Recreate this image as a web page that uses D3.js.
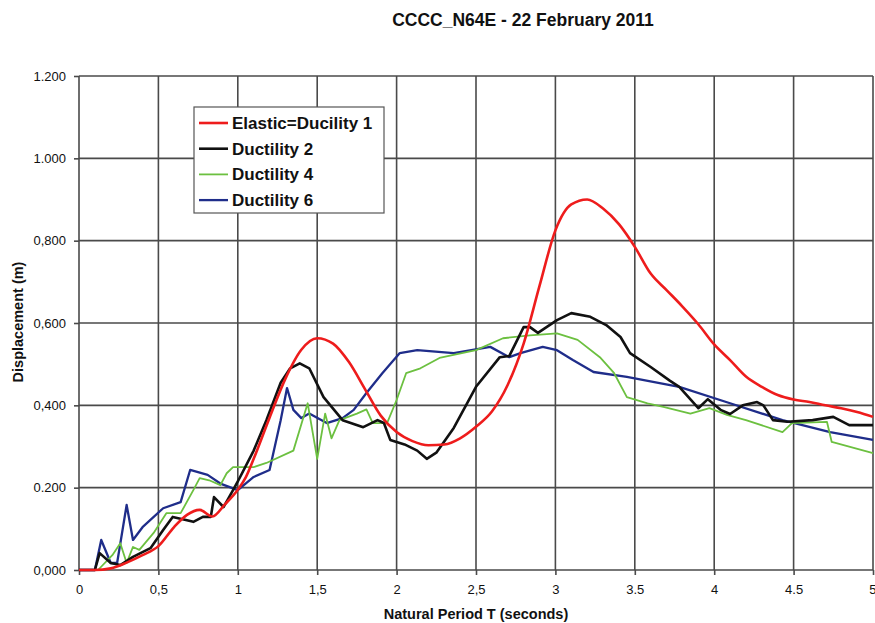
<!DOCTYPE html>
<html>
<head>
<meta charset="utf-8">
<script src="https://cdn.jsdelivr.net/npm/d3@7"></script>
<style>
  html, body { margin: 0; padding: 0; background: #fff; }
  svg { display: block; font-family: "Liberation Sans", Arial, sans-serif; }
</style>
</head>
<body>
<svg id="chart" width="875" height="623"></svg>
<script>
// Displacement response spectra, CCCC_N64E record, 22 February 2011
const elasticT = [0, 0.1, 0.2, 0.3, 0.4, 0.5, 0.6, 0.68, 0.76, 0.84, 0.92, 1.0, 1.05, 1.1, 1.2, 1.3, 1.4, 1.5, 1.6, 1.7, 1.8, 1.9, 2.0, 2.1, 2.2, 2.3, 2.4, 2.5, 2.6, 2.7, 2.8, 2.9, 3.0, 3.1, 3.2, 3.3, 3.4, 3.5, 3.6, 3.7, 3.8, 3.9, 4.0, 4.1, 4.2, 4.3, 4.4, 4.5, 4.6, 4.7, 4.8, 4.9, 5.0];
const elasticD = [0, 0, 0.004, 0.018, 0.036, 0.058, 0.105, 0.134, 0.146, 0.13, 0.16, 0.195, 0.225, 0.27, 0.37, 0.465, 0.535, 0.563, 0.55, 0.505, 0.44, 0.375, 0.335, 0.313, 0.303, 0.305, 0.32, 0.348, 0.385, 0.45, 0.55, 0.69, 0.825, 0.888, 0.9, 0.878, 0.84, 0.785, 0.72, 0.68, 0.64, 0.597, 0.548, 0.51, 0.47, 0.445, 0.425, 0.414, 0.408, 0.4, 0.393, 0.384, 0.372];

const duct2T = [0, 0.1, 0.13, 0.2, 0.26, 0.34, 0.45, 0.53, 0.59, 0.68, 0.72, 0.78, 0.83, 0.85, 0.91, 0.97, 1.0, 1.1, 1.18, 1.27, 1.33, 1.39, 1.45, 1.54, 1.66, 1.79, 1.88, 1.92, 1.96, 2.05, 2.13, 2.19, 2.25, 2.36, 2.5, 2.65, 2.71, 2.8, 2.84, 2.89, 3.01, 3.1, 3.22, 3.32, 3.41, 3.47, 3.6, 3.72, 3.78, 3.9, 3.96, 4.04, 4.1, 4.18, 4.27, 4.31, 4.37, 4.46, 4.62, 4.75, 4.85, 5.0];
const duct2D = [0, 0, 0.041, 0.017, 0.012, 0.032, 0.053, 0.097, 0.129, 0.121, 0.117, 0.129, 0.129, 0.177, 0.153, 0.194, 0.215, 0.29, 0.364, 0.455, 0.49, 0.502, 0.49, 0.42, 0.364, 0.347, 0.364, 0.357, 0.316, 0.305, 0.29, 0.27, 0.285, 0.345, 0.445, 0.517, 0.52, 0.59, 0.59, 0.576, 0.607, 0.624, 0.615, 0.595, 0.566, 0.527, 0.493, 0.46, 0.445, 0.393, 0.415, 0.389, 0.379, 0.4, 0.408, 0.4, 0.364, 0.36, 0.364, 0.372, 0.352, 0.352];

const duct4T = [0, 0.12, 0.21, 0.26, 0.3, 0.34, 0.38, 0.47, 0.55, 0.64, 0.72, 0.76, 0.82, 0.89, 0.93, 0.97, 1.1, 1.18, 1.35, 1.44, 1.5, 1.55, 1.59, 1.64, 1.75, 1.81, 1.85, 1.94, 2.0, 2.06, 2.15, 2.27, 2.5, 2.67, 2.84, 3.01, 3.14, 3.28, 3.37, 3.45, 3.58, 3.68, 3.85, 3.97, 4.08, 4.2, 4.43, 4.49, 4.71, 4.74, 5.0];
const duct4D = [0, 0, 0.036, 0.065, 0.017, 0.056, 0.049, 0.09, 0.138, 0.138, 0.194, 0.223, 0.218, 0.206, 0.235, 0.25, 0.25, 0.26, 0.29, 0.405, 0.27, 0.38, 0.32, 0.364, 0.38, 0.39, 0.357, 0.357, 0.413, 0.478, 0.49, 0.515, 0.534, 0.563, 0.57, 0.575, 0.559, 0.517, 0.478, 0.42, 0.405, 0.396, 0.38, 0.393, 0.377, 0.364, 0.335, 0.357, 0.36, 0.311, 0.284];

const duct6T = [0, 0.1, 0.14, 0.2, 0.24, 0.3, 0.34, 0.4, 0.53, 0.64, 0.7, 0.81, 0.89, 1.0, 1.1, 1.2, 1.27, 1.31, 1.35, 1.4, 1.45, 1.56, 1.66, 1.73, 1.81, 1.91, 2.02, 2.13, 2.36, 2.59, 2.71, 2.78, 2.92, 3.01, 3.11, 3.24, 3.45, 3.78, 4.1, 4.43, 4.73, 5.0];
const duct6D = [0, 0, 0.073, 0.017, 0.017, 0.158, 0.073, 0.104, 0.15, 0.165, 0.243, 0.231, 0.21, 0.194, 0.226, 0.243, 0.364, 0.442, 0.389, 0.369, 0.38, 0.357, 0.369, 0.389, 0.43, 0.478, 0.527, 0.534, 0.527, 0.542, 0.517, 0.527, 0.542, 0.534, 0.51, 0.481, 0.469, 0.445, 0.405, 0.364, 0.335, 0.316];

const xTicks = [0, 0.5, 1, 1.5, 2, 2.5, 3, 3.5, 4, 4.5, 5];
const xTickLabels = ["0", "0,5", "1", "1,5", "2", "2,5", "3", "3.5", "4", "4.5", "5"];
const yTicks = [0, 0.2, 0.4, 0.6, 0.8, 1.0, 1.2];
const yTickLabels = ["0,000", "0.200", "0,400", "0,600", "0,800", "1.000", "1.200"];

const seriesNames = ["Elastic=Ducility 1", "Ductility 2", "Ductility 4", "Ductility 6"];
const seriesColors = ["#ee1c1c", "#111111", "#6cc040", "#1f2d8a"];
const seriesWidths = [2.6, 2.6, 1.8, 2.3];

const svg = d3.select("#chart");
const margin = { left: 79, right: 2, top: 76, bottom: 53 };
const W = 875, H = 623;

const x = d3.scaleLinear().domain([0, 5]).range([margin.left, W - margin.right]);
const y = d3.scaleLinear().domain([0, 1.2]).range([H - margin.bottom, margin.top]);

// grid
const grid = svg.append("g").attr("stroke", "#4a4a4a").attr("stroke-width", 1.6);
grid.selectAll("line.v").data(xTicks).join("line")
  .attr("x1", d => x(d)).attr("x2", d => x(d))
  .attr("y1", y(1.2)).attr("y2", y(0));
grid.selectAll("line.h").data(yTicks).join("line")
  .attr("x1", x(0)).attr("x2", x(5))
  .attr("y1", d => y(d)).attr("y2", d => y(d));

// axes
const xAxis = d3.axisBottom(x).tickValues(xTicks)
  .tickFormat((d, i) => xTickLabels[i]).tickSize(5).tickPadding(10);
const yAxis = d3.axisLeft(y).tickValues(yTicks)
  .tickFormat((d, i) => yTickLabels[i]).tickSize(5).tickPadding(8);

const gx = svg.append("g").attr("transform", `translate(0,${y(0)})`).call(xAxis);
const gy = svg.append("g").attr("transform", `translate(${x(0)},0)`).call(yAxis);
[gx, gy].forEach(g => {
  g.select(".domain").remove();
  g.selectAll(".tick line").attr("stroke", "#4a4a4a").attr("stroke-width", 1.6);
  g.selectAll(".tick text").attr("fill", "#111").attr("font-size", 13)
    .attr("font-family", "'Liberation Sans', Arial, sans-serif");
});
// keep the last period label inside the page edge
gx.selectAll(".tick text").filter(d => d === 5).attr("text-anchor", "end").attr("dx", 3);

// series lines
const series = [
  { t: elasticT, d: elasticD, curve: d3.curveMonotoneX },
  { t: duct2T, d: duct2D, curve: d3.curveLinear },
  { t: duct4T, d: duct4D, curve: d3.curveLinear },
  { t: duct6T, d: duct6D, curve: d3.curveLinear }
];
const drawOrder = [3, 2, 1, 0];
drawOrder.forEach(i => {
  const s = series[i];
  const pts = s.t.map((t, k) => [t, s.d[k]]);
  const line = d3.line().x(p => x(p[0])).y(p => y(p[1])).curve(s.curve);
  svg.append("path").datum(pts)
    .attr("d", line)
    .attr("fill", "none")
    .attr("stroke", seriesColors[i])
    .attr("stroke-width", seriesWidths[i])
    .attr("stroke-linejoin", "round");
});

// legend
const lg = svg.append("g").attr("transform", "translate(194,107)");
lg.append("rect").attr("width", 190).attr("height", 106)
  .attr("fill", "#fff").attr("stroke", "#555").attr("stroke-width", 1.2);
seriesNames.forEach((name, i) => {
  const cy = 16 + i * 25.7;
  lg.append("line").attr("x1", 5).attr("x2", 34).attr("y1", cy).attr("y2", cy)
    .attr("stroke", seriesColors[i]).attr("stroke-width", seriesWidths[i]);
  lg.append("text").attr("x", 38).attr("y", cy + 6)
    .attr("font-size", 17).attr("font-weight", "bold").attr("fill", "#111")
    .text(name);
});

// titles
svg.append("text").attr("x", 523).attr("y", 26).attr("text-anchor", "middle")
  .attr("font-size", 17.5).attr("font-weight", "bold").attr("fill", "#111")
  .text("CCCC_N64E - 22 February 2011");
svg.append("text").attr("x", 476).attr("y", 619).attr("text-anchor", "middle")
  .attr("font-size", 14.5).attr("font-weight", "bold").attr("fill", "#111")
  .text("Natural Period T (seconds)");
svg.append("text").attr("transform", "translate(23,322) rotate(-90)")
  .attr("text-anchor", "middle")
  .attr("font-size", 14.5).attr("font-weight", "bold").attr("fill", "#111")
  .text("Displacement (m)");
</script>
</body>
</html>
